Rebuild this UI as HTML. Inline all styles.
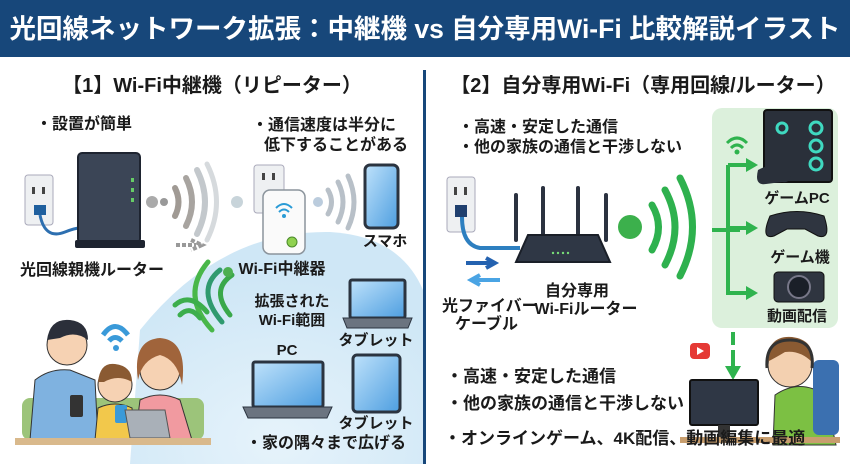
<!DOCTYPE html>
<html><head><meta charset="utf-8"><style>
html,body{margin:0;padding:0;background:#fff}
svg{display:block}
text{font-family:"Liberation Sans","Noto Sans CJK JP",sans-serif;font-weight:bold;fill:#1a1a1a}
</style></head><body>
<svg width="850" height="464" viewBox="0 0 850 464" xmlns="http://www.w3.org/2000/svg">
<defs>
<radialGradient id="dome" cx="0.5" cy="0.9" r="0.7">
<stop offset="0" stop-color="#e6f3fb"/><stop offset="1" stop-color="#cfe7f6"/></radialGradient>
<linearGradient id="scr" x1="0" y1="0" x2="1" y2="1"><stop offset="0" stop-color="#bfe2fb"/><stop offset="1" stop-color="#4d9ee0"/></linearGradient>
</defs>
<rect x="0" y="0" width="850" height="57" fill="#17477a"/>
<text x="425" y="38" font-size="26.5" fill="#fff" style="fill:#fff" text-anchor="middle">光回線ネットワーク拡張：中継機 vs 自分専用Wi-Fi 比較解説イラスト</text>
<text x="212" y="92" font-size="20" text-anchor="middle">【1】Wi-Fi中継機（リピーター）</text>
<text x="643" y="92" font-size="20" text-anchor="middle">【2】自分専用Wi-Fi（専用回線/ルーター）</text>
<rect x="423" y="70" width="3" height="394" fill="#17477a"/>

<path d="M130 464 L140 330 Q220 230 330 232 Q400 236 423 290 L423 464 Z" fill="url(#dome)"/>

<text x="36" y="129" font-size="16">・設置が簡単</text>
<text x="252" y="130" font-size="16">・通信速度は半分に</text>
<text x="264" y="150" font-size="16">低下することがある</text>

<rect x="25" y="175" width="28" height="50" rx="3" fill="#eef0f2" stroke="#aab" />
<rect x="32" y="187" width="3" height="7" fill="#444"/><rect x="42" y="187" width="3" height="7" fill="#444"/>
<rect x="34" y="205" width="12" height="10" fill="#1f5f9e"/>
<path d="M40 215 Q45 240 65 232 Q75 228 80 228" stroke="#2d6fb0" stroke-width="3" fill="none"/>
<rect x="78" y="153" width="62" height="90" rx="4" fill="#3b4556" stroke="#1e2430" stroke-width="2"/>
<rect x="75" y="240" width="70" height="8" rx="2" fill="#1e2430"/>
<rect x="131" y="178" width="3" height="4" fill="#6c6"/><rect x="131" y="188" width="3" height="4" fill="#6c6"/><rect x="131" y="198" width="3" height="4" fill="#6c6"/>
<text x="92" y="275" font-size="16" text-anchor="middle">光回線親機ルーター</text>
<circle cx="152" cy="202" r="6" fill="#aaa"/>
<circle cx="164" cy="202" r="4" fill="#999"/>
<g fill="none" stroke-linecap="round">
<path d="M175 188 Q182 202 175 216" stroke="#a09a94" stroke-width="6"/>
<path d="M186 178 Q198 202 186 226" stroke="#a8a4a0" stroke-width="6"/>
<path d="M197 170 Q213 202 197 234" stroke="#c3c8cc" stroke-width="6"/>
<path d="M207 164 Q226 202 207 240" stroke="#d6dadd" stroke-width="5"/>
</g>
<path d="M176 245 H196 M191 240 L202 245 L191 250" stroke="#999" stroke-width="4" fill="none" stroke-dasharray="4 2"/>
<circle cx="237" cy="202" r="6" fill="#c8d4da"/>
<rect x="254" y="165" width="30" height="48" rx="3" fill="#eef0f2" stroke="#aab"/>
<rect x="262" y="173" width="3" height="7" fill="#444"/><rect x="272" y="173" width="3" height="7" fill="#444"/>
<rect x="263" y="190" width="42" height="64" rx="7" fill="#fafafa" stroke="#8b949c" stroke-width="1.5"/>
<path d="M276 208 Q284 200 292 208 M279 212 Q284 207 289 212" stroke="#2a9bd6" stroke-width="2" fill="none"/>
<circle cx="284" cy="216" r="2" fill="#2a9bd6"/>
<circle cx="292" cy="242" r="5" fill="#8fd14f" stroke="#4a8a2a"/>
<circle cx="318" cy="202" r="5" fill="#bcd"/>
<g fill="none" stroke="#b8c0c8" stroke-width="5" stroke-linecap="round">
<path d="M328 190 Q335 202 328 214"/><path d="M338 182 Q348 202 338 222"/><path d="M348 176 Q360 202 348 228"/>
</g>
<text x="282" y="274" font-size="16" text-anchor="middle">Wi-Fi中継器</text>
<rect x="365" y="165" width="33" height="63" rx="5" fill="url(#scr)" stroke="#2b3440" stroke-width="3"/>
<text x="385" y="246" font-size="15" text-anchor="middle">スマホ</text>
<g fill="none" stroke-linecap="round" stroke-width="5">
<path d="M232 275 Q210 290 230 315" stroke="#3aa84a"/>
<path d="M220 270 Q195 290 222 322" stroke="#2f9a6f"/>
<path d="M208 262 Q180 295 212 330" stroke="#49b74a"/>
<path d="M180 315 Q190 305 200 318" stroke="#3cae4c"/>
<path d="M175 305 Q190 292 207 312" stroke="#3cae4c"/>
</g>
<circle cx="228" cy="272" r="5" fill="#4caf50"/>
<text x="292" y="306" font-size="15" text-anchor="middle">拡張された</text>
<text x="292" y="325" font-size="15" text-anchor="middle">Wi-Fi範囲</text>
<rect x="350" y="280" width="55" height="38" rx="2" fill="url(#scr)" stroke="#2b3440" stroke-width="3"/>
<path d="M343 318 H412 L408 328 H347 Z" fill="#6b7480" stroke="#2b3440"/>
<text x="376" y="345" font-size="15" text-anchor="middle">タブレット</text>
<text x="287" y="355" font-size="15" text-anchor="middle">PC</text>
<rect x="253" y="362" width="70" height="45" rx="2" fill="url(#scr)" stroke="#2b3440" stroke-width="3"/>
<path d="M243 407 H332 L327 418 H248 Z" fill="#6b7480" stroke="#2b3440"/>
<rect x="353" y="355" width="47" height="57" rx="4" fill="url(#scr)" stroke="#2b3440" stroke-width="3"/>
<text x="376" y="428" font-size="15" text-anchor="middle">タブレット</text>
<text x="246" y="448" font-size="16">・家の隅々まで広げる</text>

<path d="M103 335 Q115 318 128 335" stroke="#3a9ad9" stroke-width="5" fill="none"/>
<path d="M109 341 Q115 334 122 341" stroke="#3a9ad9" stroke-width="5" fill="none"/>
<circle cx="116" cy="348" r="3" fill="#3a9ad9"/>
<rect x="22" y="398" width="182" height="42" rx="8" fill="#9cc47a"/>
<path d="M30 440 L35 380 Q50 368 70 370 L95 380 L98 440 Z" fill="#7fb2e0" stroke="#333"/>
<circle cx="67" cy="345" r="20" fill="#f6d2b3" stroke="#333"/>
<path d="M47 340 Q50 318 70 320 Q88 322 88 340 Q75 330 60 338 Z" fill="#2b2f3a"/>
<path d="M95 440 L98 408 Q115 400 132 408 L135 440 Z" fill="#f2c84b" stroke="#333"/>
<circle cx="115" cy="385" r="17" fill="#f6d2b3" stroke="#333"/>
<path d="M98 382 Q100 362 115 364 Q132 366 132 382 Q118 374 104 382 Z" fill="#8a5a32"/>
<path d="M135 440 L140 400 Q160 390 180 400 L192 440 Z" fill="#f19aa0" stroke="#333"/>
<circle cx="160" cy="370" r="20" fill="#f6d2b3" stroke="#333"/>
<path d="M138 380 Q132 340 160 338 Q188 340 182 385 Q178 360 160 355 Q142 360 138 380 Z" fill="#a0643b"/>
<rect x="70" y="395" width="13" height="22" rx="2" fill="#333"/>
<rect x="115" y="405" width="12" height="18" rx="2" fill="#3a9ad9"/>
<path d="M125 410 H165 L170 438 H130 Z" fill="#a9b0b8" stroke="#555"/>
<rect x="15" y="438" width="196" height="7" fill="#d9b98c"/>

<!-- right -->
<text x="458" y="132" font-size="16">・高速・安定した通信</text>
<text x="458" y="152" font-size="16">・他の家族の通信と干渉しない</text>
<rect x="712" y="108" width="126" height="220" rx="10" fill="#dcf0dc"/>
<rect x="447" y="177" width="28" height="55" rx="3" fill="#eef0f2" stroke="#aab"/>
<rect x="454" y="187" width="3" height="8" fill="#444"/><rect x="464" y="187" width="3" height="8" fill="#444"/>
<rect x="455" y="205" width="12" height="12" fill="#1f3f6e"/>
<path d="M462 217 Q462 245 480 248 L520 248" stroke="#2d7fc0" stroke-width="4" fill="none"/>
<g stroke="#2b3240" stroke-width="4" stroke-linecap="round">
<line x1="516" y1="195" x2="516" y2="240"/><line x1="543" y1="188" x2="543" y2="238"/><line x1="578" y1="188" x2="578" y2="238"/><line x1="606" y1="195" x2="606" y2="240"/>
</g>
<path d="M528 235 H598 L610 262 H516 Z" fill="#2f3745" stroke="#1a1f28" stroke-width="2"/>
<g fill="#7d7"><circle cx="553" cy="253" r="1.2"/><circle cx="558" cy="253" r="1.2"/><circle cx="563" cy="253" r="1.2"/><circle cx="568" cy="253" r="1.2"/></g>
<path d="M466 263 H492 M486 258 L495 263 L486 268" stroke="#2462b0" stroke-width="4" fill="none"/>
<path d="M500 280 H474 M480 275 L471 280 L480 285" stroke="#4aa4e4" stroke-width="4" fill="none"/>
<text x="442" y="311" font-size="16">光ファイバー</text>
<text x="455" y="329" font-size="16">ケーブル</text>
<text x="577" y="296" font-size="16" text-anchor="middle">自分専用</text>
<text x="586" y="314" font-size="16" text-anchor="middle">Wi-Fiルーター</text>
<circle cx="630" cy="227" r="12" fill="#3cb04c"/>
<g fill="none" stroke="#2eb14e" stroke-width="7" stroke-linecap="round">
<path d="M652 205 Q665 227 652 250"/><path d="M665 190 Q685 227 665 265"/><path d="M680 178 Q705 227 680 276"/>
</g>
<g stroke="#2fb34e" stroke-width="4" fill="none">
<path d="M712 230 H740 M728 165 V295 M728 165 H748 M728 228 H748 M728 293 H748"/>
</g>
<g fill="#2fb34e"><path d="M746 158 L758 165 L746 172Z"/><path d="M746 221 L758 228 L746 235Z"/><path d="M746 286 L758 293 L746 300Z"/></g>
<path d="M727 143 Q737 133 747 143 M731 148 Q737 142 743 148" stroke="#2fb34e" stroke-width="3" fill="none"/>
<circle cx="737" cy="152" r="2.5" fill="#2fb34e"/>
<rect x="764" y="110" width="68" height="72" rx="3" fill="#2a303a" stroke="#111" stroke-width="2"/>
<circle cx="816" cy="128" r="6" fill="none" stroke="#3fd9c0" stroke-width="3"/>
<circle cx="816" cy="146" r="6" fill="none" stroke="#3fd9c0" stroke-width="3"/>
<circle cx="816" cy="164" r="6" fill="none" stroke="#3fd9c0" stroke-width="3"/>
<circle cx="782" cy="128" r="5" fill="none" stroke="#3fd9c0" stroke-width="3"/>
<path d="M758 170 Q772 162 790 168 Q793 184 782 182 L766 184 Q754 186 758 170Z" fill="#2a303a"/>
<text x="797" y="203" font-size="15" text-anchor="middle">ゲームPC</text>
<path d="M770 216 Q797 207 824 216 Q832 240 818 236 L805 229 H787 L774 236 Q760 240 770 216Z" fill="#2f3540" stroke="#111"/>
<text x="800" y="262" font-size="15" text-anchor="middle">ゲーム機</text>
<rect x="774" y="272" width="50" height="30" rx="4" fill="#2f3540" stroke="#111"/>
<circle cx="799" cy="287" r="11" fill="#1a1f28" stroke="#778" stroke-width="2"/>
<text x="797" y="321" font-size="15" text-anchor="middle">動画配信</text>
<path d="M733 332 V345 M733 350 V370" stroke="#2fb34e" stroke-width="4"/>
<path d="M725 366 L733 380 L741 366Z" fill="#2fb34e"/>
<rect x="690" y="343" width="20" height="16" rx="4" fill="#e53935"/>
<path d="M697 347 L704 351 L697 355Z" fill="#fff"/>
<path d="M773 445 L775 395 Q800 378 825 395 L836 445Z" fill="#7cc043" stroke="#333"/>
<rect x="813" y="360" width="26" height="75" rx="6" fill="#3b70b0"/>
<circle cx="790" cy="365" r="22" fill="#f3d0b0" stroke="#333"/>
<path d="M767 362 Q768 335 792 337 Q815 340 812 362 Q800 350 785 352 Q775 358 767 362Z" fill="#8a5a32"/>
<path d="M767 368 Q765 340 790 340 Q815 340 812 368" stroke="#333" stroke-width="3" fill="none"/>
<rect x="690" y="380" width="68" height="45" rx="2" fill="#2f3745" stroke="#111" stroke-width="2"/>
<rect x="718" y="425" width="12" height="12" fill="#333"/>
<rect x="680" y="437" width="160" height="6" fill="#c89e6e"/>
<text x="446" y="382" font-size="17">・高速・安定した通信</text>
<text x="446" y="409" font-size="17">・他の家族の通信と干渉しない</text>
<text x="444" y="444" font-size="17">・オンラインゲーム、4K配信、動画編集に最適</text>
</svg>
</body></html>
